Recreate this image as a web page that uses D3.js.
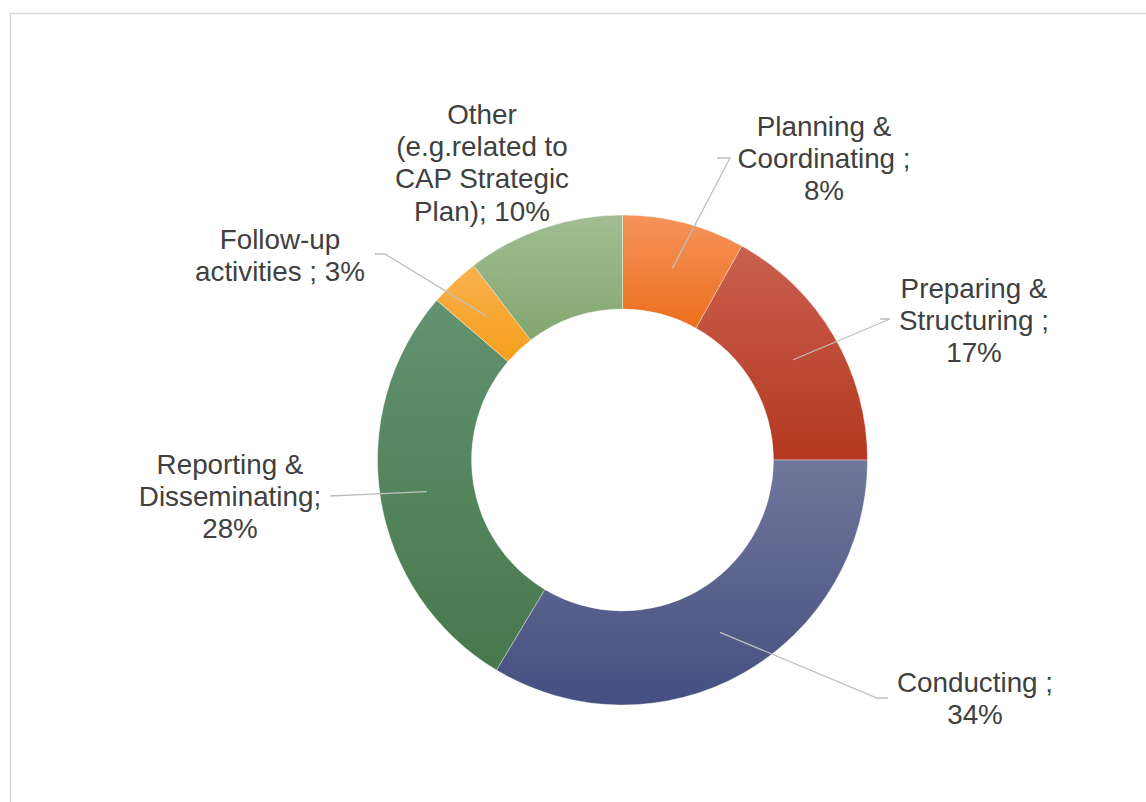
<!DOCTYPE html>
<html>
<head>
	<meta charset="utf-8">
	<style>
		body { margin: 0; background: #fff; }
		svg { display: block; }
	</style>
</head>
<body>
<div id="chartContainer">
	<script src="https://cdn.jsdelivr.net/npm/d3@7"></script>
	<script type="text/javascript">

// Data, clockwise from 12 o'clock (shares; labels show them rounded)
	var categories = ["Planning & Coordinating", "Preparing & Structuring", "Conducting",
		"Reporting & Disseminating", "Follow-up activities", "Other (e.g.related to CAP Strategic Plan)"];
	var values = [8.1, 16.9, 33.6, 27.7, 3.3, 10.4];
	var labelLines = [
		["Planning &", "Coordinating ;", "8%"],
		["Preparing &", "Structuring ;", "17%"],
		["Conducting ;", "34%"],
		["Reporting &", "Disseminating;", "28%"],
		["Follow-up", "activities ; 3%"],
		["Other", "(e.g.related to", "CAP Strategic", "Plan); 10%"]
	];

// Slice colours (top / bottom of the vertical gradient)
	var topColors = ["#f5935c", "#c9604f", "#6f779b", "#62926f", "#fab24f", "#a0be92"];
	var bottomColors = ["#ec6f1c", "#b4381f", "#454f80", "#47784c", "#f49e1a", "#83a66f"];

// Label layout: centre x, first baseline, optional leader path (label side)
	var labelLayout = [
		{x: 824, y: 136, leader: [[717, 158], [730, 158]]},
		{x: 974, y: 298, leader: [[880, 319], [890, 319]]},
		{x: 975, y: 692, leader: [[888, 698], [877, 698]]},
		{x: 230, y: 474, leader: [[330, 496]]},
		{x: 280, y: 249, leader: [[375, 254], [385, 254]]},
		{x: 482, y: 124, leader: null}
	];

	var width = 1146, height = 802;
	var center = {x: 622.5, y: 460};
	var outerR = 245, innerR = 151;
	var lineH = 32.2;

	var svg = d3.select("#chartContainer").append("svg")
		.attr("width", width).attr("height", height);

// chart frame (runs off the page at right / bottom)
	svg.append("rect")
		.attr("x", 10.5).attr("y", 13.5)
		.attr("width", 1300).attr("height", 1000)
		.attr("fill", "none").attr("stroke", "#d9d9d9").attr("stroke-width", 1.5);

	var defs = svg.append("defs");
	topColors.forEach(function (c, i) {
		var g = defs.append("linearGradient")
			.attr("id", "grad" + i)
			.attr("x1", 0).attr("y1", 0).attr("x2", 0).attr("y2", 1);
		g.append("stop").attr("offset", "0%").attr("stop-color", c);
		g.append("stop").attr("offset", "100%").attr("stop-color", bottomColors[i]);
	});

	var pie = d3.pie().sort(null).value(function (d) { return d; });
	var arc = d3.arc().innerRadius(innerR).outerRadius(outerR);
	var arcs = pie(values);

	var g = svg.append("g").attr("transform", "translate(" + center.x + "," + center.y + ")");

	g.selectAll("path.slice")
		.data(arcs)
		.enter()
		.append("path")
			.attr("class", "slice")
			.attr("d", arc)
			.attr("fill", function (d, i) { return "url(#grad" + i + ")"; })
			.attr("stroke", "#ffffff").attr("stroke-width", 0.6).attr("stroke-opacity", 0.6);

// Leader lines: from slice centroid out to the label
	arcs.forEach(function (d, i) {
		var lay = labelLayout[i];
		if (!lay.leader) return;
		var c = arc.centroid(d);
		var pts = [[c[0] + center.x, c[1] + center.y]];
		lay.leader.slice().reverse().forEach(function (p) { pts.push(p); });
		svg.append("path")
			.attr("d", d3.line()(pts))
			.attr("fill", "none")
			.attr("stroke", "#bfbfbf")
			.attr("stroke-width", 1.3);
	});

// Data labels
	labelLines.forEach(function (lines, i) {
		var lay = labelLayout[i];
		var t = svg.append("text")
			.attr("text-anchor", "middle")
			.style("font-family", "Arial, 'Liberation Sans', sans-serif")
			.style("font-size", "27.8px")
			.attr("fill", "#404040");
		lines.forEach(function (s, k) {
			t.append("tspan")
				.attr("x", lay.x)
				.attr("y", lay.y + k * lineH)
				.text(s);
		});
	});

	</script>
</div>
</body>
</html>
